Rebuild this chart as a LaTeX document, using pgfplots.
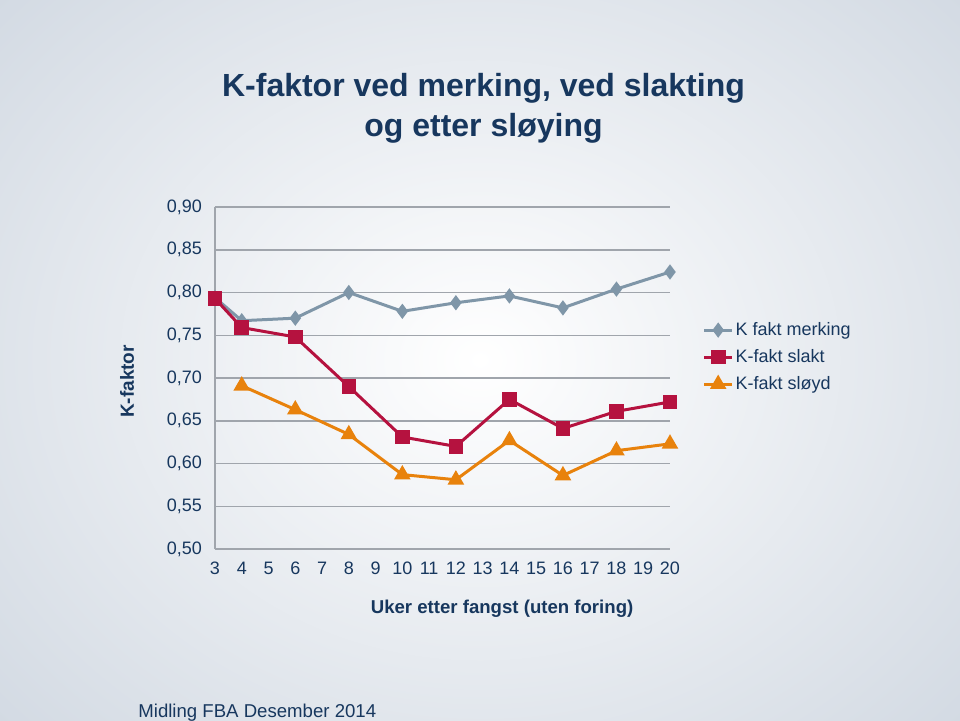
\documentclass[border=0pt]{standalone}
\usepackage{pgfplots}
\pgfplotsset{compat=1.18}
\usetikzlibrary{backgrounds}
\usepackage{fontspec}
\setmainfont{Liberation Sans}
\definecolor{txt}{RGB}{23,55,94}
\definecolor{merk}{RGB}{127,150,168}
\definecolor{slakt}{RGB}{181,18,63}
\definecolor{sloyd}{RGB}{232,130,12}
\definecolor{gridc}{RGB}{160,165,172}
\definecolor{bgedge}{RGB}{206,214,224}
\begin{document}
\begin{tikzpicture}
\begin{scope}[overlay]
\begin{axis}[
  name=ax,
  scale only axis, width=227.5pt, height=171pt,
  xmin=3, xmax=20, ymin=0.5, ymax=0.9,
  xtick={3,4,...,20}, ytick={0.5,0.55,...,0.91},
  clip=false,
  axis x line*=bottom, axis y line*=left,
  axis line style={gridc, line width=0.75pt},
  ymajorgrids, major grid style={gridc, line width=0.75pt},
  major tick length=0pt,
  tick label style={txt, font=\fontsize{9}{11}\selectfont},
  /pgf/number format/assume math mode=true,
  yticklabel style={/pgf/number format/fixed, /pgf/number format/fixed zerofill, /pgf/number format/precision=2, /pgf/number format/use comma, xshift=-3pt},
  xticklabel style={yshift=-3pt},
  xlabel={Uker etter fangst (uten foring)},
  xlabel style={txt, font=\fontsize{9.3}{11}\selectfont\bfseries, at={(axis description cs:0.631,-0.175)}, anchor=center},
  ylabel={K-faktor},
  ylabel style={txt, font=\fontsize{9.5}{11}\selectfont\bfseries, at={(axis description cs:-0.193,0.49)}, anchor=center},
  legend style={draw=none, fill=none, at={(axis description cs:1.071,0.561)}, anchor=west,
     font=\fontsize{9}{11}\selectfont, text=txt, row sep=3.5pt, inner sep=0pt,
     nodes={inner sep=1pt}},
  legend cell align=left,
  legend image code/.code={\draw[mark repeat=2,mark phase=2,#1] plot coordinates {(0pt,0pt)(7pt,0pt)(14pt,0pt)};},
  every axis plot/.append style={line width=1.5pt, mark options={solid}},
]
\addplot[merk, mark=diamond*, mark size=2.6pt] coordinates {
(3,0.794)(4,0.767)(6,0.770)(8,0.800)(10,0.778)(12,0.788)(14,0.796)(16,0.782)(18,0.804)(20,0.824)};
\addlegendentry{K fakt merking}
\addplot[slakt, mark=square*, mark size=2.9pt] coordinates {
(3,0.793)(4,0.759)(6,0.748)(8,0.690)(10,0.631)(12,0.620)(14,0.675)(16,0.641)(18,0.661)(20,0.672)};
\addlegendentry{K-fakt slakt}
\addplot[sloyd, mark=triangle*, mark size=3.3pt] coordinates {
(4,0.691)(6,0.663)(8,0.634)(10,0.587)(12,0.581)(14,0.627)(16,0.586)(18,0.615)(20,0.623)};
\addlegendentry{K-fakt sløyd}
\end{axis}
\end{scope}
\coordinate (O) at ([shift={(-107.5pt,-85.5pt)}]ax.south west);
\useasboundingbox (O) rectangle ([shift={(480pt,360pt)}]O);
\begin{scope}[on background layer]
\shade[inner color=white, outer color=bgedge] ([shift={(-120pt,-120pt)}]O) rectangle ([shift={(600pt,480pt)}]O);
\end{scope}
\node[txt,font=\fontsize{16}{20}\selectfont\bfseries,align=center,anchor=base] at ([shift={(241.75pt,292pt)}]O) {K-faktor ved merking, ved slakting\\og etter sløying};
\node[txt,font=\fontsize{9.3}{11}\selectfont,anchor=base west,inner sep=0pt] at ([shift={(69pt,1.5pt)}]O) {Midling FBA Desember 2014};
\end{tikzpicture}
\end{document}
